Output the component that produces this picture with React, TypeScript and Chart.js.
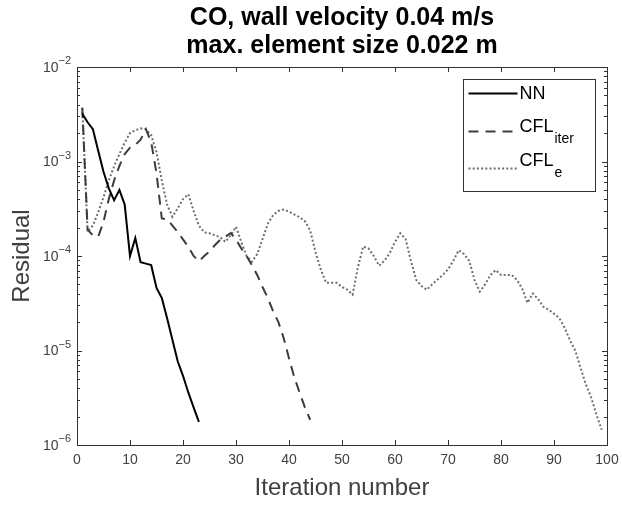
import React, { useEffect, useRef } from "react";
import { Chart, registerables } from "chart.js";

Chart.register(...registerables);

const titleLines = ["CO, wall velocity 0.04 m/s", "max. element size 0.022 m"];
const xAxisTitle = "Iteration number";
const yAxisTitle = "Residual";
const xTickValues = [0, 10, 20, 30, 40, 50, 60, 70, 80, 90, 100];
const yTickExponents = [-2, -3, -4, -5, -6];
const legendBase = ["NN", "CFL", "CFL"];
const legendSub = ["", "iter", "e"];

const nnIterations = [1, 2, 3, 4, 5, 6, 7, 8, 9, 10, 11, 12, 13, 14, 15, 16, 17, 18, 19, 20, 21, 22, 23];
const nnResidual = [
  3.2e-3, 2.6e-3, 2.2e-3, 1.3e-3, 7.8e-4, 5.2e-4, 3.9e-4, 5.0e-4, 3.5e-4, 1.0e-4,
  1.55e-4, 8.6e-5, 8.3e-5, 8.0e-5, 4.6e-5, 3.6e-5, 2.2e-5, 1.3e-5, 7.7e-6, 5.4e-6,
  3.6e-6, 2.5e-6, 1.76e-6,
];

const cflIterIterations = [
  1, 2, 3, 4, 5, 6, 7, 8, 9, 10, 11, 12, 13, 14, 15, 16, 17, 18, 19, 20, 21, 22,
  23, 24, 25, 26, 27, 28, 29, 30, 31, 32, 33, 34, 35, 36, 37, 38, 39, 40, 41, 42, 43, 44,
];
const cflIterResidual = [
  3.7e-3, 1.9e-4, 1.65e-4, 1.6e-4, 2.3e-4, 4.0e-4, 6.3e-4, 9.0e-4, 1.2e-3, 1.4e-3,
  1.5e-3, 1.7e-3, 2.2e-3, 1.6e-3, 7.5e-4, 2.5e-4, 2.45e-4, 2.1e-4, 1.8e-4, 1.5e-4,
  1.25e-4, 1.0e-4, 8.8e-5, 1.0e-4, 1.12e-4, 1.3e-4, 1.48e-4, 1.6e-4, 1.75e-4, 1.5e-4,
  1.2e-4, 1.0e-4, 8.0e-5, 6.3e-5, 4.7e-5, 3.6e-5, 2.6e-5, 2.0e-5, 1.35e-5, 8.3e-6,
  5.2e-6, 3.6e-6, 2.5e-6, 1.85e-6,
];

const cflEIterations = [
  1, 2, 3, 4, 5, 6, 7, 8, 9, 10, 11, 12, 13, 14, 15, 16, 17, 18, 19, 20, 21, 22, 23, 24, 25,
  26, 27, 28, 29, 30, 31, 32, 33, 34, 35, 36, 37, 38, 39, 40, 41, 42, 43, 44, 45, 46, 47, 48, 49, 50,
  51, 52, 53, 54, 55, 56, 57, 58, 59, 60, 61, 62, 63, 64, 65, 66, 67, 68, 69, 70, 71, 72, 73, 74, 75,
  76, 77, 78, 79, 80, 81, 82, 83, 84, 85, 86, 87, 88, 89, 90, 91, 92, 93, 94, 95, 96, 97, 98, 99,
];
const cflEResidual = [
  3.7e-3, 1.8e-4, 2.1e-4, 2.9e-4, 4.2e-4, 6.3e-4, 8.9e-4, 1.2e-3, 1.58e-3, 2.0e-3,
  2.14e-3, 2.24e-3, 2.19e-3, 1.9e-3, 1.26e-3, 6.3e-4, 3.5e-4, 2.6e-4, 3.2e-4, 4.0e-4,
  4.5e-4, 3.0e-4, 2.1e-4, 1.78e-4, 1.74e-4, 1.66e-4, 1.58e-4, 1.41e-4, 1.66e-4, 2.04e-4,
  1.41e-4, 1.0e-4, 8.7e-5, 1.05e-4, 1.51e-4, 2.19e-4, 2.7e-4, 3.0e-4, 3.1e-4, 2.95e-4,
  2.75e-4, 2.57e-4, 2.34e-4, 1.86e-4, 1.1e-4, 7.2e-5, 5.2e-5, 5.2e-5, 5.2e-5, 4.7e-5,
  4.4e-5, 3.9e-5, 7.6e-5, 1.26e-4, 1.2e-4, 1.0e-4, 7.9e-5, 8.9e-5, 1.07e-4, 1.41e-4,
  1.74e-4, 1.51e-4, 8.9e-5, 5.6e-5, 4.8e-5, 4.4e-5, 5.0e-5, 5.6e-5, 6.3e-5, 7.2e-5,
  8.9e-5, 1.15e-4, 1.05e-4, 8.9e-5, 5.6e-5, 4.2e-5, 5.0e-5, 6.3e-5, 7.1e-5, 6.3e-5,
  6.3e-5, 6.3e-5, 5.6e-5, 4.5e-5, 3.2e-5, 4.0e-5, 3.5e-5, 2.9e-5, 2.7e-5, 2.45e-5,
  2.2e-5, 1.74e-5, 1.29e-5, 1.0e-5, 6.6e-6, 4.4e-6, 3.2e-6, 2.1e-6, 1.45e-6,
];

const FONT = "'Liberation Sans', Arial, Helvetica, sans-serif";
const COLOR_NN = "#000000";
const COLOR_ITER = "#3c3c3c";
const COLOR_E = "#6e6e6e";
const DASH_ITER = [10, 7];
const DASH_E = [2, 2.2];

export default function App() {
  const ref = useRef<HTMLCanvasElement>(null);

  useEffect(() => {
    const canvas = ref.current;
    if (!canvas) return;
    const toPoints = (xs: number[], ys: number[]) => xs.map((x, i) => ({ x, y: ys[i] }));

    const axesPlugin = {
      id: "matlabAxes",
      afterDraw(chart: any) {
        const ctx: CanvasRenderingContext2D = chart.ctx;
        const { left, right, top, bottom } = chart.chartArea;
        const xs = chart.scales.x;
        const ys = chart.scales.y;
        const axisColor = "#333333";
        const textColor = "#404040";
        ctx.save();
        ctx.setLineDash([]);
        ctx.lineWidth = 1;
        ctx.strokeStyle = axisColor;

        // ticks
        ctx.beginPath();
        for (const v of xTickValues) {
          const px = Math.round(xs.getPixelForValue(v)) + 0.5;
          ctx.moveTo(px, bottom);
          ctx.lineTo(px, bottom - 5);
          ctx.moveTo(px, top);
          ctx.lineTo(px, top + 5);
        }
        for (const e of yTickExponents) {
          const py = Math.round(ys.getPixelForValue(Math.pow(10, e))) + 0.5;
          ctx.moveTo(left, py);
          ctx.lineTo(left + 5, py);
          ctx.moveTo(right, py);
          ctx.lineTo(right - 5, py);
          if (e < -2) {
            for (let m = 2; m <= 9; m++) {
              const pm = Math.round(ys.getPixelForValue(m * Math.pow(10, e))) + 0.5;
              ctx.moveTo(left, pm);
              ctx.lineTo(left + 3, pm);
              ctx.moveTo(right, pm);
              ctx.lineTo(right - 3, pm);
            }
          }
        }
        ctx.stroke();

        // frame
        ctx.strokeRect(Math.round(left) + 0.5, Math.round(top) + 0.5, Math.round(right - left), Math.round(bottom - top));

        // x tick labels
        ctx.fillStyle = textColor;
        ctx.font = `14px ${FONT}`;
        ctx.textAlign = "center";
        ctx.textBaseline = "middle";
        for (const v of xTickValues) {
          ctx.fillText(String(v), xs.getPixelForValue(v), bottom + 15);
        }

        // y tick labels 10^e
        for (const e of yTickExponents) {
          const py = ys.getPixelForValue(Math.pow(10, e));
          const sup = String(e).replace("-", "\u2212");
          ctx.font = `11px ${FONT}`;
          const supW = ctx.measureText(sup).width;
          ctx.textAlign = "right";
          ctx.fillText(sup, left - 6, py - 6);
          ctx.font = `14px ${FONT}`;
          ctx.fillText("10", left - 6 - supW, py + 1);
        }

        // axis titles
        ctx.font = `24px ${FONT}`;
        ctx.textAlign = "center";
        ctx.textBaseline = "middle";
        ctx.fillText(xAxisTitle, (left + right) / 2, bottom + 43);
        ctx.save();
        ctx.translate(22, (top + bottom) / 2);
        ctx.rotate(-Math.PI / 2);
        ctx.fillText(yAxisTitle, 0, 0);
        ctx.restore();

        // title
        ctx.fillStyle = "#000000";
        ctx.font = `bold 25px ${FONT}`;
        ctx.fillText(titleLines[0], (left + right) / 2, 18);
        ctx.fillText(titleLines[1], (left + right) / 2, 46);

        // legend
        const lx = Math.round(right) - 143.5;
        const ly = Math.round(top) + 12.5;
        const lw = 132;
        const lh = 112;
        ctx.fillStyle = "#ffffff";
        ctx.fillRect(lx, ly, lw, lh);
        ctx.strokeStyle = "#333333";
        ctx.lineWidth = 1;
        ctx.strokeRect(lx, ly, lw, lh);
        const colors = [COLOR_NN, COLOR_ITER, COLOR_E];
        const dashes = [[], DASH_ITER, DASH_E];
        const lineYs = [14, 52, 89];
        const textYs = [15, 48, 82];
        for (let i = 0; i < 3; i++) {
          ctx.strokeStyle = colors[i];
          ctx.lineWidth = 2;
          ctx.setLineDash(dashes[i]);
          ctx.beginPath();
          ctx.moveTo(lx + 5, ly + lineYs[i]);
          ctx.lineTo(lx + 54, ly + lineYs[i]);
          ctx.stroke();
          ctx.setLineDash([]);
          ctx.fillStyle = "#000000";
          ctx.textAlign = "left";
          ctx.textBaseline = "middle";
          ctx.font = `18px ${FONT}`;
          ctx.fillText(legendBase[i], lx + 56, ly + textYs[i]);
          const bw = ctx.measureText(legendBase[i]).width;
          if (legendSub[i]) {
            ctx.font = `14px ${FONT}`;
            ctx.fillText(legendSub[i], lx + 56 + bw + 1, ly + textYs[i] + 12);
          }
        }
        ctx.restore();
      },
    };

    const chart = new Chart(canvas, {
      type: "line",
      data: {
        datasets: [
          {
            label: "NN",
            data: toPoints(nnIterations, nnResidual),
            borderColor: COLOR_NN,
            borderWidth: 2,
            pointRadius: 0,
            tension: 0,
            fill: false,
          },
          {
            label: "CFL_iter",
            data: toPoints(cflIterIterations, cflIterResidual),
            borderColor: COLOR_ITER,
            borderWidth: 2,
            borderDash: DASH_ITER,
            pointRadius: 0,
            tension: 0,
            fill: false,
          },
          {
            label: "CFL_e",
            data: toPoints(cflEIterations, cflEResidual),
            borderColor: COLOR_E,
            borderWidth: 2,
            borderDash: DASH_E,
            pointRadius: 0,
            tension: 0,
            fill: false,
          },
        ],
      },
      options: {
        responsive: false,
        animation: false,
        devicePixelRatio: 1,
        layout: { padding: { left: 77, right: 15, top: 67, bottom: 64 } },
        plugins: {
          legend: { display: false },
          tooltip: { enabled: false },
          title: { display: false },
        },
        scales: {
          x: { type: "linear", min: 0, max: 100, display: false },
          y: { type: "logarithmic", min: 1e-6, max: 1e-2, display: false },
        },
        elements: { point: { radius: 0 } },
      },
      plugins: [axesPlugin],
    });

    return () => chart.destroy();
  }, []);

  return (
    <div style={{ position: "absolute", left: 0, top: 0, width: 622, height: 509, background: "#ffffff" }}>
      <canvas ref={ref} width={622} height={509} style={{ display: "block" }} />
    </div>
  );
}
